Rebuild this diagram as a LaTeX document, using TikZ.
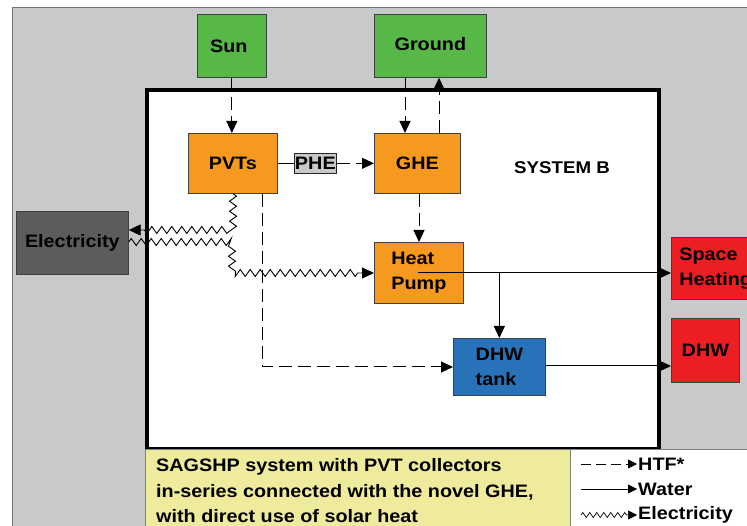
\documentclass[tikz,border=0pt]{standalone}
\usepackage{fontspec}
\setmainfont[FakeStretch=1.1]{Liberation Sans}
\usetikzlibrary{arrows.meta,decorations.pathmorphing,calc}
\definecolor{bggray}{RGB}{200,201,203}
\definecolor{grn}{RGB}{87,184,72}
\definecolor{org}{RGB}{247,153,31}
\definecolor{blu}{RGB}{40,114,186}
\definecolor{rd}{RGB}{236,30,36}
\definecolor{dgray}{RGB}{92,92,94}
\definecolor{phegray}{RGB}{200,200,202}
\definecolor{ylw}{RGB}{238,236,156}
\tikzset{
  box/.style={draw=black!75, line width=0.7pt, inner sep=0pt, anchor=north west,
    font=\bfseries\fontsize{18}{25}\selectfont, text=black, align=left},
  tip/.style={-{Triangle[length=12pt,width=11pt]}},
  htf/.style={tip, line width=1pt, dash pattern=on 13pt off 6pt},
  water/.style={tip, line width=1pt},
  elec/.style={tip, line width=0.9pt, decorate,
    decoration={zigzag, segment length=10pt, amplitude=3.5pt, post length=12pt}},
  legtip/.style={-{Triangle[length=9pt,width=9pt]}},
  legtext/.style={anchor=west, inner sep=1pt, font=\bfseries\fontsize{18}{20}\selectfont}
}
\begin{document}
\begin{tikzpicture}[x=1pt, y=-1pt]
\clip (0,0) rectangle (747,526);
\fill[white] (0,0) rectangle (747,526);
\draw[fill=bggray, draw=black!55, line width=0.6pt] (12,7) rectangle (760,540);

% system box
\node[draw=black, line width=4pt, fill=white, minimum width=512pt, minimum height=359pt,
  anchor=north west, inner sep=0pt] (sys) at (145,88) {};
\node[font=\bfseries\fontsize{17}{20}\selectfont] (sysb) at (562,168) {SYSTEM B};

% sources
\node[box, fill=grn, minimum width=69pt, minimum height=63pt] (sun) at (197,14) {\raisebox{-5pt}{Sun\hspace{6pt}}};
\node[box, fill=grn, minimum width=112pt, minimum height=63pt] (ground) at (374,14) {\raisebox{3pt}{Ground}};

% components
\node[box, fill=org, minimum width=89pt, minimum height=60pt] (pvts) at (188,133) {PVTs};
\node[box, fill=phegray, draw=black!85, minimum width=42pt, minimum height=20pt] (phe) at (294,153) {PHE};
\node[box, fill=org, minimum width=86pt, minimum height=60pt] (ghe) at (374,133) {GHE};
\node[box, fill=org, minimum width=89pt, minimum height=61pt] (hp) at (374,242) {Heat\\Pump\hspace{6pt}};
\node[box, fill=blu, minimum width=92pt, minimum height=57pt] (tank) at (453,338) {DHW\\tank};
\node[box, fill=rd, minimum width=100pt, minimum height=62pt, text width=90pt, inner xsep=8pt] (sh) at (671,237) {Space\\Heating};
\node[box, fill=rd, minimum width=68pt, minimum height=64pt] (dhw) at (671,318) {DHW};
\node[box, fill=dgray, minimum width=112pt, minimum height=63pt] (elec) at (16,211) {Electricity};

% HTF connectors
\draw[htf] (sun.south) -- (sun.south |- pvts.north);
\draw[line width=1pt] (pvts.east) -- (phe.west);
\draw[htf] (phe.east) -- (ghe.west);
\draw[htf] (ground.south -| 405,0) -- (ghe.north -| 405,0);
\draw[htf] (ghe.north -| 439,0) -- (ground.south -| 439,0);
\draw[htf] (ghe.south -| 419,0) -- (hp.north -| 419,0);
\draw[htf] (pvts.south -| 262,0) -- (262,367) -- (tank.west |- 0,367);

% electricity connectors
\draw[elec] (pvts.south -| 233,0) -- (233,230) -- (elec.east |- 0,230);
\draw[elec] (elec.east |- 0,242) -- (232,242) -- (232,273) -- (hp.west |- 0,273);

% water connectors
\draw[water] (418,273) -- (sh.west |- 0,273);
\draw[water] (tank.north |- 0,273) -- (tank.north);
\draw[water] (tank.east |- 0,366) -- (dhw.west |- 0,366);

% caption and legend
\draw[fill=ylw, draw=black!50, line width=0.6pt] (145,449) rectangle (570,540);
\draw[fill=white, draw=black!50, line width=0.6pt] (570,449) rectangle (760,540);
\node[anchor=west, inner sep=0pt, align=left, font=\bfseries\fontsize{18}{25.5}\selectfont] (cap) at (156,491)
  {SAGSHP system with PVT collectors\\in-series connected with the novel GHE,\\with direct use of solar heat};

\coordinate (l1a) at (581,464); \coordinate (l1b) at (637,464);
\coordinate (l2a) at (581,489); \coordinate (l2b) at (637,489);
\coordinate (l3a) at (581,515); \coordinate (l3b) at (637,515);
\draw[legtip, line width=0.8pt, dash pattern=on 10pt off 5pt] (l1a) -- (l1b);
\draw[legtip, line width=0.8pt] (l2a) -- (l2b);
\draw[legtip, line width=0.7pt, decorate, decoration={zigzag, segment length=7pt, amplitude=2.5pt, post length=9pt}] (l3a) -- (l3b);
\node[legtext] (t1) at (l1b) {HTF*};
\node[legtext] (t2) at (l2b) {Water};
\node[legtext] (t3) at (l3b) {Electricity};
\end{tikzpicture}
\end{document}
